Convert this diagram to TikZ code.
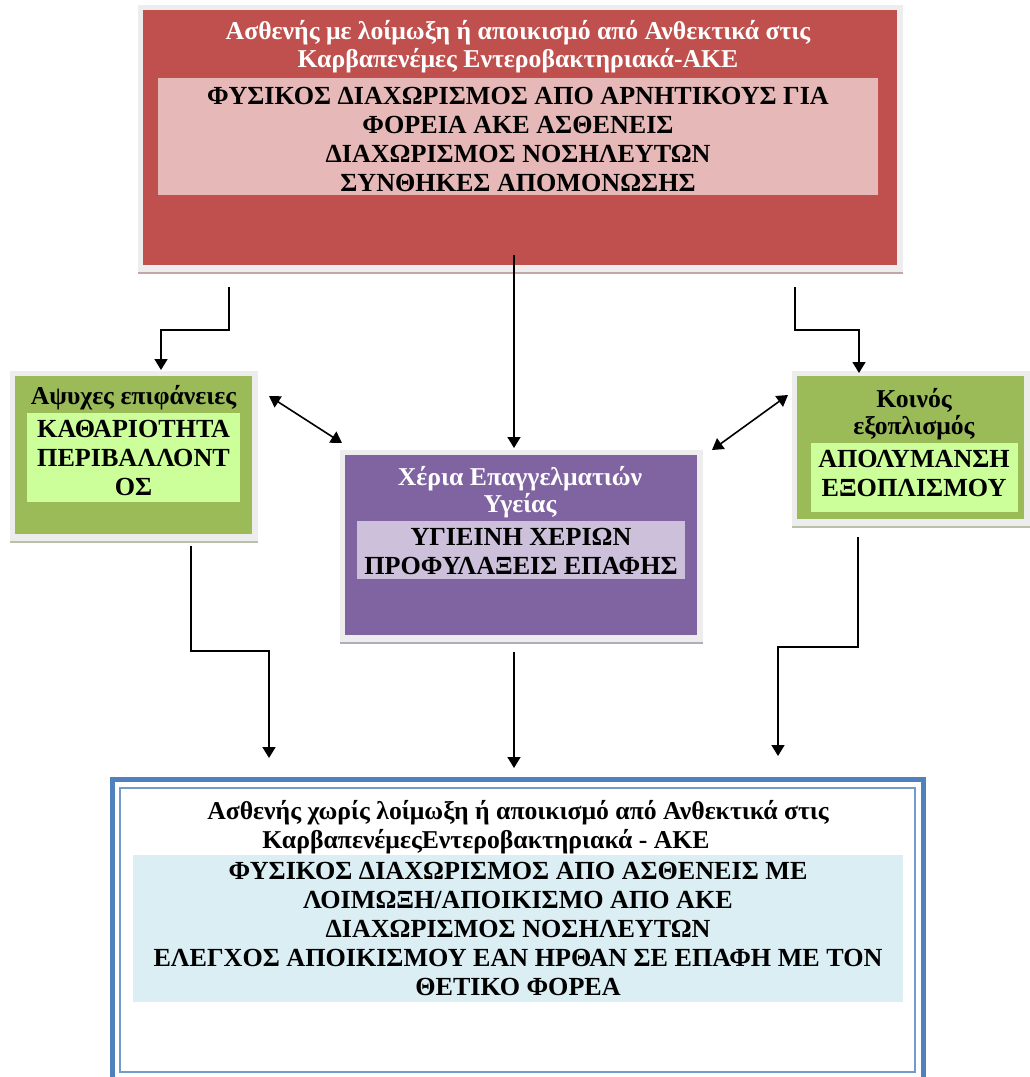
\documentclass[tikz,border=0pt]{standalone}
\usepackage{fontspec}
\setmainfont{Liberation Serif}
\usetikzlibrary{arrows.meta,backgrounds,calc}

\definecolor{boxred}{HTML}{C0504D}
\definecolor{bandpink}{HTML}{E6B9B8}
\definecolor{boxgreen}{HTML}{9BBB59}
\definecolor{bandgreen}{HTML}{CCFF99}
\definecolor{boxpurple}{HTML}{8064A2}
\definecolor{bandlilac}{HTML}{CCC0DA}
\definecolor{boxblue}{HTML}{4F81BD}
\definecolor{bandblue}{HTML}{DBEEF3}
\definecolor{framegray}{HTML}{EDEDED}

\tikzset{
  every node/.style={inner sep=0pt, outer sep=0pt},
  bigtext/.style={font=\fontsize{26.1}{29}\selectfont\bfseries, align=center},
  titletext/.style={font=\fontsize{25.7}{27.5}\selectfont\bfseries, align=center},
  tip/.tip={Triangle[length=11pt,width=13pt]},
  conn/.style={line width=1.6pt, -tip},
  twoway/.style={line width=1.6pt, tip-tip},
}

\begin{document}
\begin{tikzpicture}[x=1pt,y=-1pt]
\useasboundingbox (0,0) rectangle (1030,1077);

% ---- source patient box
\node[fill=boxred, minimum width=754pt, minimum height=255pt] (src) at (520,137.5) {};
\node[titletext, text=white] (srct) at (518,46.5)
  {Ασθενής με λοίμωξη ή αποικισμό από Ανθεκτικά στις\\Καρβαπενέμες Εντεροβακτηριακά-ΑΚΕ};
\node[fill=bandpink, minimum width=720pt, minimum height=117pt] (srcb) at (518,136.5) {};
\node[bigtext] (srcx) at (518,139)
  {ΦΥΣΙΚΟΣ ΔΙΑΧΩΡΙΣΜΟΣ ΑΠΟ ΑΡΝΗΤΙΚΟΥΣ ΓΙΑ\\ΦΟΡΕΙΑ ΑΚΕ ΑΣΘΕΝΕΙΣ\\ΔΙΑΧΩΡΙΣΜΟΣ ΝΟΣΗΛΕΥΤΩΝ\\ΣΥΝΘΗΚΕΣ ΑΠΟΜΟΝΩΣΗΣ};

% ---- surfaces box
\node[fill=boxgreen, minimum width=237pt, minimum height=158pt] (surf) at (133.5,455) {};
\node[titletext] (surft) at (133.5,398) {Αψυχες επιφάνειες};
\node[fill=bandgreen, minimum width=213pt, minimum height=89pt] (surfb) at (133.5,457.5) {};
\node[bigtext] (surfx) at (133.5,458) {ΚΑΘΑΡΙΟΤΗΤΑ\\ΠΕΡΙΒΑΛΛΟΝΤ\\ΟΣ};

% ---- hands box
\node[fill=boxpurple, minimum width=352pt, minimum height=180pt] (hand) at (521,545) {};
\node[titletext, text=white] (handt) at (520,492) {Χέρια Επαγγελματιών\\Υγείας};
\node[fill=bandlilac, minimum width=328pt, minimum height=58pt] (handb) at (521,550) {};
\node[bigtext] (handx) at (521,551.5) {ΥΓΙΕΙΝΗ ΧΕΡΙΩΝ\\ΠΡΟΦΥΛΑΞΕΙΣ ΕΠΑΦΗΣ};

% ---- equipment box
\node[fill=boxgreen, minimum width=227pt, minimum height=143pt] (equip) at (910.5,447.5) {};
\node[titletext] (equipt) at (914,414) {Κοινός\\εξοπλισμός};
\node[fill=bandgreen, minimum width=207pt, minimum height=69pt] (equipb) at (914.5,477.5) {};
\node[bigtext] (equipx) at (914,473.5) {ΑΠΟΛΥΜΑΝΣΗ\\ΕΞΟΠΛΙΣΜΟΥ};

% ---- target patient box
\begin{scope}
\clip (0,0) rectangle (1030,1077);
\draw[boxblue, line width=5pt] (112,779) rectangle (923,1085);
\node[draw=boxblue!80, line width=1.3pt, fill=white, minimum width=795pt, minimum height=284pt] (dst) at (517.5,930) {};
\end{scope}
\node[titletext] (dstt1) at (518,813) {Ασθενής χωρίς λοίμωξη ή αποικισμό από Ανθεκτικά στις};
\node[titletext] (dstt2) at (486,842) {ΚαρβαπενέμεςΕντεροβακτηριακά - ΑΚΕ};
\node[fill=bandblue, minimum width=770pt, minimum height=147pt] (dstb) at (518,928.5) {};
\node[bigtext] (dstx) at (518,929)
  {ΦΥΣΙΚΟΣ ΔΙΑΧΩΡΙΣΜΟΣ ΑΠΟ ΑΣΘΕΝΕΙΣ ΜΕ\\ΛΟΙΜΩΞΗ/ΑΠΟΙΚΙΣΜΟ ΑΠΟ ΑΚΕ\\ΔΙΑΧΩΡΙΣΜΟΣ ΝΟΣΗΛΕΥΤΩΝ\\ΕΛΕΓΧΟΣ ΑΠΟΙΚΙΣΜΟΥ ΕΑΝ ΗΡΘΑΝ ΣΕ ΕΠΑΦΗ ΜΕ ΤΟΝ\\ΘΕΤΙΚΟ ΦΟΡΕΑ};

% ---- light frames behind the coloured boxes
\begin{scope}[on background layer]
  \foreach \b/\edge in {src/boxred, surf/boxgreen, hand/boxpurple, equip/boxgreen}{
    \fill[framegray] ($(\b.north west)+(-5,-5)$) rectangle ($(\b.south east)+(6,9)$);
    \draw[line width=2.5pt, \edge!40!gray!60] ($(\b.south west)+(-5,8)$) -- ($(\b.south east)+(6,8)$);
  }
\end{scope}

% ---- connectors
\coordinate (s1) at (229,287);
\coordinate (s2) at (514,255);
\coordinate (s3) at (795,287);
\draw[conn] (s1) -- ++(0,43) -| ($(surf.north)+(27.5,-6)$);
\draw[conn] (s2) -- ($(s2 |- hand.north)+(0,-7)$);
\draw[conn] (s3) -- ++(0,43) -| ($(equip.north)+(-51.5,-3)$);

\coordinate (d1) at ($(surf.north east)+(17,20)$);
\coordinate (d2) at ($(hand.north west)+(-3,-12)$);
\draw[twoway] (d1) -- (d2);
\coordinate (e1) at ($(equip.north west)+(-9,19)$);
\coordinate (e2) at ($(hand.north east)+(15,-5)$);
\draw[twoway] (e1) -- (e2);

\coordinate (t1) at (191,546);
\coordinate (t2) at (514,652);
\coordinate (t3) at (858,537);
\coordinate (u1) at (269,758);
\coordinate (u2) at (514,768);
\coordinate (u3) at (778,756);
\draw[conn] (t1) -- ++(0,105) -| (u1);
\draw[conn] (t2) -- (u2);
\draw[conn] (t3) -- ++(0,110) -| (u3);
\end{tikzpicture}
\end{document}
